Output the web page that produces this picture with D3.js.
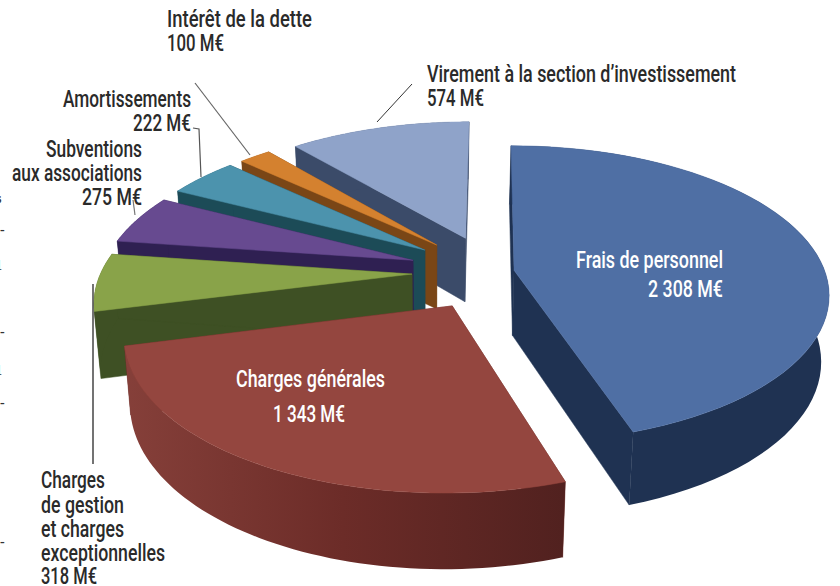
<!DOCTYPE html>
<html>
<head>
<meta charset="utf-8">
<script src="https://cdn.jsdelivr.net/npm/d3@7"></script>
<style>
  html, body { margin: 0; padding: 0; background: #fff; }
  svg { display: block; }
  text { font-family: "Roboto", sans-serif; font-size: 23px; font-weight: 500; }
</style>
</head>
<body>
<svg></svg>
<script>
var width = 840;
var height = 586;

// budget items, in chart order (clockwise from 12 o'clock)
var categories = ["Frais de personnel", "Charges générales", "Charges de gestion et charges exceptionnelles",
                  "Subventions aux associations", "Amortissements", "Intérêt de la dette",
                  "Virement à la section d'investissement"];
var values = [2308, 1343, 318, 275, 222, 100, 574];

var topColors  = ["#4f6fa4", "#94463f", "#89a349", "#674a90", "#4c93ad", "#d4812f", "#8fa3c9"];
var wallColors = ["#1f3252", "#6a2b27", "#3e5024", "#2f2052", "#1c4b57", "#7a4616", "#3b4b69"];
// how far each slice is pulled out, as a share of the radius
var explode = [0.072, 0.257, 0.257, 0.27, 0.27, 0.265, 0.257];
// back to front
var drawOrder = [6, 5, 4, 3, 2, 0, 1];

// perspective of the tilted pie
var center = {x: 492, y: 272};
var rx = 311, ry = 145, persp = 0.16;

var svg = d3.select("svg")
            .attr("width", width)
            .attr("height", height);

var defs = svg.append("defs");
var redWall = defs.append("linearGradient").attr("id", "redWall")
    .attr("gradientUnits", "userSpaceOnUse")
    .attr("x1", 120).attr("x2", 565).attr("y1", 0).attr("y2", 0);
redWall.append("stop").attr("offset", 0).attr("stop-color", "#86403a");
redWall.append("stop").attr("offset", 0.5).attr("stop-color", "#6c2c28");
redWall.append("stop").attr("offset", 1).attr("stop-color", "#51211f");

function project(u, v) {
    var w = 1 - persp * v;
    return [center.x + rx * u / w, center.y + ry * v / w];
}

// bottom of the wall under a top point; verticals converge a little
function drop(p) {
    return [432 + (p[0] - 432) * 0.98, p[1] + 64 + 0.05 * (p[1] - 250)];
}

var pie = d3.pie().sort(null).startAngle(0).endAngle(2 * Math.PI);
var arcs = pie(values);
var line = d3.line();

var g = svg.append("g");

drawOrder.forEach(function(i) {
    var d = arcs[i];
    var mid = (d.startAngle + d.endAngle) / 2;
    var ox = explode[i] * Math.sin(mid);
    var oy = -explode[i] * Math.cos(mid);

    var apex = project(ox, oy);
    var steps = d3.range(0, 61).map(function(k) {
        return d.startAngle + (d.endAngle - d.startAngle) * k / 60;
    });
    var rim = steps.map(function(a) {
        return project(ox + Math.sin(a), oy - Math.cos(a));
    });
    var rimLow = rim.map(drop);
    var wallFill = i == 1 ? "url(#redWall)" : wallColors[i];

    // cut faces
    [rim[0], rim[rim.length - 1]].forEach(function(p) {
        g.append("path")
            .attr("d", line([apex, p, drop(p), drop(apex)]) + "Z")
            .attr("fill", wallColors[i])
            .attr("stroke", wallColors[i])
            .attr("stroke-width", 0.5);
    });

    // outer wall
    g.append("path")
        .attr("d", line(rim.concat(rimLow.slice().reverse())) + "Z")
        .attr("fill", wallFill);

    // top
    g.append("path")
        .attr("d", line([apex].concat(rim)) + "Z")
        .attr("fill", topColors[i])
        .attr("stroke", topColors[i])
        .attr("stroke-width", 0.5);
});

// leader lines
var leaders = [
    {pts: [[412, 84], [377, 122]], color: "#333", w: 1},
    {pts: [[195, 83], [250, 155]], color: "#666", w: 1.2},
    {pts: [[193, 128], [199, 129], [201, 177]], color: "#555", w: 1.2},
    {pts: [[133, 200], [135, 215]], color: "#777", w: 1.2},
    {pts: [[93, 284], [93, 464]], color: "#444", w: 1.5}
];
svg.selectAll("path.leader")
    .data(leaders)
    .enter().append("path")
    .attr("class", "leader")
    .attr("d", function(d) { return line(d.pts); })
    .attr("fill", "none")
    .attr("stroke", function(d) { return d.color; })
    .attr("stroke-width", function(d) { return d.w; });

// labels: text, left edge, baseline, measured width
var labels = [
    ["Intérêt de la dette", 167, 27, 145, "#2a2a2a"],
    ["100 M€", 167, 51, 57, "#2a2a2a"],
    ["Virement à la section d’investissement", 427, 82, 309, "#2a2a2a"],
    ["574 M€", 427, 106, 57, "#2a2a2a"],
    ["Amortissements", 63, 107, 128, "#2a2a2a"],
    ["222 M€", 133, 131, 58, "#2a2a2a"],
    ["Subventions", 46, 157, 96, "#2a2a2a"],
    ["aux associations", 12, 181, 130, "#2a2a2a"],
    ["275 M€", 82, 205, 60, "#2a2a2a"],
    ["Charges", 41, 488, 64, "#2a2a2a"],
    ["de gestion", 41, 513, 83, "#2a2a2a"],
    ["et charges", 41, 537, 83, "#2a2a2a"],
    ["exceptionnelles", 41, 561, 124, "#2a2a2a"],
    ["318 M€", 41, 584, 56, "#2a2a2a"],
    ["Frais de personnel", 576, 268, 147, "#fff"],
    ["2 308 M€", 648, 297, 75, "#fff"],
    ["Charges générales", 236, 387, 149, "#fff"],
    ["1 343 M€", 273, 422, 72, "#fff"]
];
svg.selectAll("text.label")
    .data(labels)
    .enter().append("text")
    .attr("class", "label")
    .attr("x", function(d) { return d[1]; })
    .attr("y", function(d) { return d[2]; })
    .attr("textLength", function(d) { return d[3]; })
    .attr("lengthAdjust", "spacingAndGlyphs")
    .attr("fill", function(d) { return d[4]; })
    .text(function(d) { return d[0]; });

// cut-off bits of the neighbouring column at the left edge
var strays = [["s", -4, 203], ["-", 0, 234], ["1", -5, 270], ["-", 0, 336], ["1", -5, 375], ["-", 0, 407], ["-", 0, 546]];
svg.selectAll("text.stray")
    .data(strays)
    .enter().append("text")
    .attr("class", "stray")
    .attr("x", function(d) { return d[1]; })
    .attr("y", function(d) { return d[2]; })
    .attr("fill", "#333")
    .style("font-family", "'Liberation Serif', serif")
    .style("font-size", "14px")
    .style("font-weight", "700")
    .text(function(d) { return d[0]; });
</script>
</body>
</html>
